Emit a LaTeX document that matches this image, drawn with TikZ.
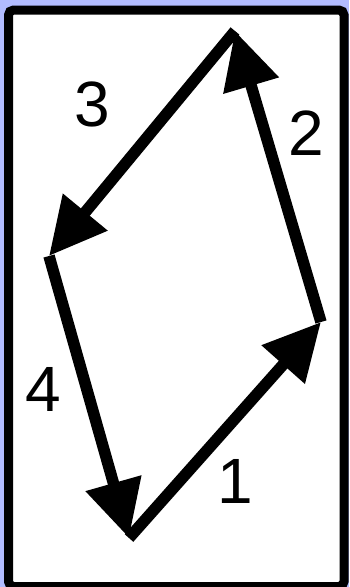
\documentclass[tikz,border=0pt]{standalone}
\usepackage{fontspec}
\setmainfont{Liberation Sans}
\usetikzlibrary{arrows.meta}
\definecolor{bgblue}{RGB}{178,188,255}
\tikzset{
  edgearrow/.style={line width=11.5pt, -{Triangle[length=57pt,width=55pt]}},
  numlabel/.style={font=\fontsize{64}{64}\selectfont, inner sep=0pt},
}
\begin{document}
\begin{tikzpicture}[x=1pt,y=-1pt]
\fill[bgblue] (0,0) rectangle (349,587);
\useasboundingbox (0,0) rectangle (349,587);
\draw[line width=9pt, fill=white, rounded corners=5pt] (8.5,10) rectangle (344,586.5);
\coordinate (A) at (129,538);
\coordinate (B) at (321,322);
\coordinate (C) at (235,31);
\coordinate (D) at (49,256);
\draw[edgearrow] (A) -- (B);
\draw[edgearrow] (B) -- (C);
\draw[edgearrow] (C) -- (D);
\draw[edgearrow] (D) -- (A);
\node[numlabel] (l1) at (235,481) {1};
\node[numlabel] (l2) at (306,133) {2};
\node[numlabel] (l3) at (92,104) {3};
\node[numlabel] (l4) at (43,389) {4};
\end{tikzpicture}
\end{document}
